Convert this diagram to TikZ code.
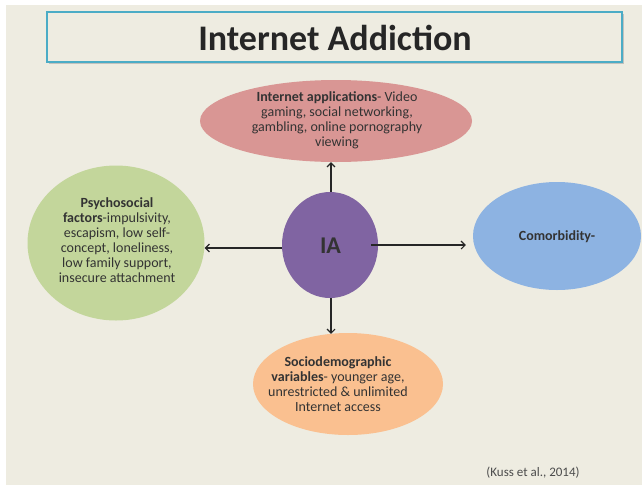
\documentclass[tikz,border=0pt]{standalone}
\usepackage{fontspec}
\setmainfont{Carlito}
\usetikzlibrary{shapes.geometric,arrows.meta,shadows}
\definecolor{bg}{HTML}{EEECE1}
\definecolor{titleline}{HTML}{4BACC6}
\definecolor{pinkfill}{HTML}{D99694}
\definecolor{greenfill}{HTML}{C3D69B}
\definecolor{purplefill}{HTML}{8064A2}
\definecolor{bluefill}{HTML}{8DB3E2}
\definecolor{orangefill}{HTML}{FAC090}
\definecolor{txt}{HTML}{333333}
\begin{document}
\begin{tikzpicture}[x=1pt,y=-1pt,
  blob/.style={ellipse, draw=none, inner sep=0pt},
  label/.style={align=center, inner sep=0pt, text=txt, font=\fontsize{14}{15}\selectfont},
  conn/.style={draw=black!85, line width=1.1pt, -{Straight Barb[length=4pt,width=8pt]}},
  titlebox/.style={draw=titleline, line width=1.4pt, fill=bg, inner sep=0pt,
    drop shadow={shadow xshift=1.5pt, shadow yshift=-1.5pt, fill=black!35, opacity=0.6}}
]
\useasboundingbox (0,0) rectangle (642,485);
\fill[white] (0,0) rectangle (642,485);
\fill[bg] (6,5) rectangle (642,485);

\node[titlebox, minimum width=575pt, minimum height=50pt] (title) at (334.5,37) {};
\node[text=black!85, font=\fontsize{36}{40}\selectfont\bfseries, inner sep=0pt] (titletext) at (335,38) {Internet Addiction};

\node[blob, fill=pinkfill, minimum width=272pt, minimum height=82pt] (pink) at (336,121) {};
\node[label] (pinktext) at (337,120.5) {\textbf{Internet applications}- Video\\gaming, social networking,\\gambling, online pornography\\viewing};

\node[blob, fill=greenfill, minimum width=177pt, minimum height=155pt] (green) at (116,243) {};
\node[label] (greentext) at (117,240) {\textbf{Psychosocial}\\\textbf{factors}-impulsivity,\\escapism, low self-\\concept, loneliness,\\low family support,\\insecure attachment};

\node[blob, fill=bluefill, minimum width=168pt, minimum height=108pt] (blue) at (557,236) {};
\node[label, font=\fontsize{14}{15}\selectfont\bfseries] (bluetext) at (557,237) {Comorbidity-};

\node[blob, fill=orangefill, minimum width=190pt, minimum height=102pt] (orange) at (348,384) {};
\node[label] (orangetext) at (338,384.5) {\textbf{Sociodemographic}\\\textbf{variables}- younger age,\\unrestricted \& unlimited\\Internet access};

\node[blob, fill=purplefill, minimum width=96pt, minimum height=106pt] (ia) at (330,245) {};
\node[label, font=\fontsize{24}{28}\selectfont\bfseries] (iatext) at (330.5,246) {IA};

\draw[conn] ([xshift=1pt]ia.north) -- ([xshift=1pt]ia.north |- pink.south);
\draw[conn] ([yshift=-3pt]ia.west) -- ([yshift=-5pt]green.east);
\draw[conn] ([xshift=-7pt]ia.east) -- ([xshift=-7pt]ia.east -| blue.west);
\draw[conn] ([xshift=1pt]ia.south) -- ([xshift=1pt,yshift=-1pt]ia.south |- orange.north);

\node[inner sep=0pt, text=black!70, font=\fontsize{13}{15}\selectfont] (cite) at (533,473) {(Kuss et al., 2014)};
\end{tikzpicture}
\end{document}
